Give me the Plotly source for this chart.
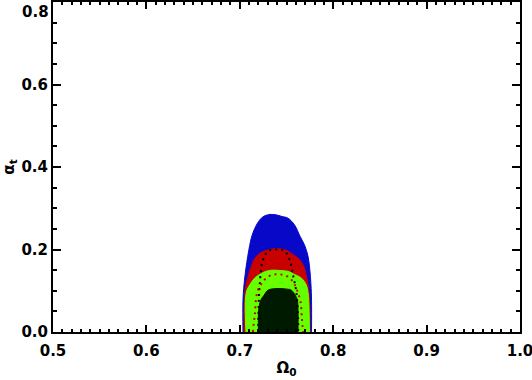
import plotly.graph_objects as go

# confidence regions, outlines (left bottom -> top -> right bottom)
blue_x = [0.7034, 0.7034, 0.7045, 0.7066, 0.7106, 0.7131, 0.7177, 0.7230, 0.7270, 0.7323,
          0.7388, 0.7452, 0.7516, 0.7588, 0.7645, 0.7695, 0.7730, 0.7748, 0.7762, 0.7768, 0.7768]
blue_y = [0.000, 0.077, 0.114, 0.155, 0.210, 0.234, 0.259, 0.276, 0.282, 0.285,
          0.284, 0.280, 0.276, 0.259, 0.232, 0.210, 0.184, 0.155, 0.114, 0.077, 0.000]

red_x = [0.7045, 0.7050, 0.7066, 0.7109, 0.7163, 0.7216, 0.7288, 0.7388,
         0.7502, 0.7559, 0.7626, 0.7666, 0.7698, 0.7730, 0.7746, 0.7752]
red_y = [0.000, 0.077, 0.114, 0.150, 0.179, 0.191, 0.198, 0.202,
         0.198, 0.189, 0.179, 0.167, 0.150, 0.114, 0.077, 0.000]

green_x = [0.7066, 0.7059, 0.7077, 0.7106, 0.7160, 0.7216, 0.7281, 0.7345,
           0.7430, 0.7516, 0.7580, 0.7658, 0.7712, 0.7730, 0.7738, 0.7746]
green_y = [0.000, 0.077, 0.102, 0.114, 0.131, 0.140, 0.147, 0.150,
           0.149, 0.147, 0.140, 0.131, 0.114, 0.097, 0.077, 0.000]

black_x = [0.7200, 0.7202, 0.7224, 0.7259, 0.7302, 0.7398, 0.7484, 0.7551, 0.7594, 0.7616, 0.7623, 0.7623]
black_y = [0.000, 0.053, 0.077, 0.089, 0.1015, 0.1055, 0.1045, 0.1015, 0.089, 0.077, 0.053, 0.000]

# dotted contours
dot_black_x = [0.7195, 0.7202, 0.7213, 0.7248, 0.7302, 0.7390, 0.7481, 0.7540, 0.7570, 0.7605, 0.7623, 0.7625]
dot_black_y = [0.000, 0.065, 0.114, 0.174, 0.196, 0.200, 0.196, 0.170, 0.138, 0.097, 0.041, 0.000]
dot_red_x = [0.7140, 0.7160, 0.7195, 0.7302, 0.7412, 0.7516, 0.7580, 0.7620, 0.7650, 0.7665, 0.7677]
dot_red_y = [0.000, 0.041, 0.1015, 0.134, 0.140, 0.134, 0.118, 0.097, 0.073, 0.033, 0.000]

x_ticks = [0.5, 0.6, 0.7, 0.8, 0.9, 1.0]
x_labels = ['0.5', '0.6', '0.7', '0.8', '0.9', '1.0']
y_ticks = [0.0, 0.2, 0.4, 0.6, 0.8]
y_labels = ['0.0', '0.2', '0.4', '0.6', '']  # 0.8 is drawn below the frame top, as in the original


def region(xs, ys, color):
    return go.Scatter(x=xs, y=ys, fill='toself', fillcolor=color, mode='lines',
                      line=dict(color=color, width=1, shape='spline', smoothing=1),
                      hoverinfo='skip', showlegend=False)


fig = go.Figure()
fig.add_trace(region(blue_x, blue_y, '#0808c8'))
fig.add_trace(region(red_x, red_y, '#c80000'))
fig.add_trace(region(green_x, green_y, '#66ff00'))
fig.add_trace(region(black_x, black_y, '#001a00'))

fig.add_trace(go.Scatter(x=dot_black_x, y=dot_black_y, mode='lines',
                         line=dict(color='black', width=2, dash='2px,4px', shape='spline'),
                         showlegend=False))
fig.add_trace(go.Scatter(x=dot_red_x, y=dot_red_y, mode='lines',
                         line=dict(color='#c80000', width=2, dash='2px,4px', shape='spline'),
                         showlegend=False))

axis_font = dict(family='DejaVu Sans', size=15, color='black', weight='bold')
title_font = dict(family='DejaVu Sans', size=15, color='black', weight='bold')

fig.update_xaxes(range=[0.5, 1.0], tickvals=x_ticks, ticktext=x_labels,
                 ticks='inside', ticklen=7, tickwidth=1.5, tickcolor='black',
                 minor=dict(tick0=0.5, dtick=0.01, ticklen=3, tickwidth=1.5, tickcolor='black', ticks='inside'),
                 showline=True, linewidth=2, linecolor='black', mirror='allticks',
                 showgrid=False, zeroline=False, tickfont=axis_font, automargin=False,
                 ticklabelstandoff=4, ticklabeloverflow='allow',
                 title=dict(text='Ω<sub>0</sub>', font=title_font, standoff=3))
fig.update_yaxes(range=[0, 0.8], tickvals=y_ticks, ticktext=y_labels,
                 ticks='inside', ticklen=8, tickwidth=1.5, tickcolor='black',
                 minor=dict(tick0=0, dtick=0.05, ticklen=4, tickwidth=1.5, tickcolor='black', ticks='inside'),
                 showline=True, linewidth=2, linecolor='black', mirror='allticks',
                 showgrid=False, zeroline=False, tickfont=axis_font, automargin=False,
                 title=dict(text='α<sub>t</sub>', font=title_font, standoff=5))

fig.add_annotation(x=0, xref='paper', y=0.8, yref='y', text='0.8', showarrow=False,
                   xanchor='right', yanchor='top', xshift=-2, yshift=1, font=axis_font)

fig.update_layout(width=532, height=380, margin=dict(l=53, r=12, t=2, b=48),
                  plot_bgcolor='white', paper_bgcolor='white', showlegend=False)

# drop the browser's default page margin so the figure sits at the window corner
fig.write_html("out.html", config={'displayModeBar': False},
               post_script="document.body.style.margin='0';")
